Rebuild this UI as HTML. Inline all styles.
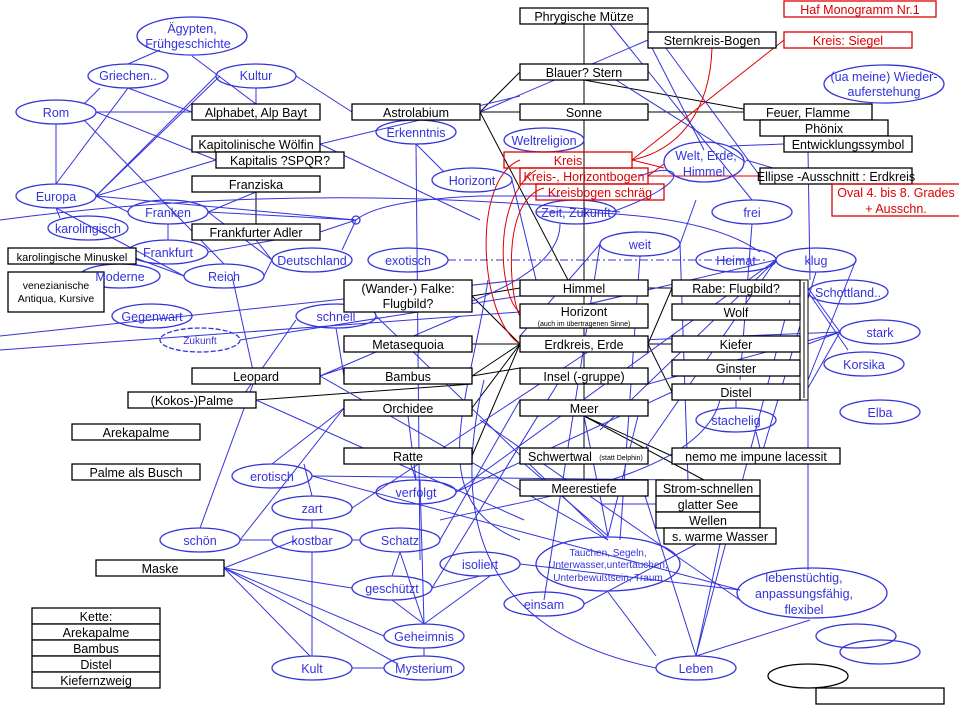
<!DOCTYPE html>
<html><head><meta charset="utf-8"><style>
html,body{margin:0;padding:0;background:#fff;}
svg{display:block;font-family:"Liberation Sans",sans-serif;}
.b rect{fill:#fff;stroke:#000;stroke-width:1.3}
.r rect{fill:none;stroke:#d00;stroke-width:1.3}
.e ellipse{fill:none;stroke:#3333dd;stroke-width:1.3}
.bl line,.bl path{stroke:#3333dd;stroke-width:1;fill:none}
.k line{stroke:#000;stroke-width:1}
.rc path,.rc line{stroke:#d00;stroke-width:1;fill:none}
text{font-size:12.5px;text-anchor:middle}
.tb{fill:#000}.tr{fill:#d00}.te{fill:#3333dd}
</style></head><body>
<svg width="959" height="719" viewBox="0 0 959 719">
<!-- black tree lines -->
<g class="k">
<line x1="584" y1="24" x2="584" y2="480"/>
<line x1="648" y1="40" x2="648" y2="24"/>
<line x1="584" y1="80" x2="760" y2="112"/>
<line x1="480" y1="112" x2="520" y2="72"/>
<line x1="480" y1="112" x2="520" y2="112"/>
<line x1="648" y1="112" x2="744" y2="112"/>
<line x1="480" y1="112" x2="568" y2="280"/>
<line x1="256" y1="192" x2="256" y2="224"/>
<line x1="472" y1="296" x2="520" y2="288"/>
<line x1="472" y1="296" x2="520" y2="344"/>
<line x1="472" y1="344" x2="520" y2="344"/>
<line x1="472" y1="376" x2="520" y2="344"/>
<line x1="472" y1="408" x2="520" y2="344"/>
<line x1="472" y1="456" x2="520" y2="344"/>
<line x1="472" y1="376" x2="520" y2="368"/>
<line x1="256" y1="400" x2="472" y2="384"/>
<line x1="648" y1="288" x2="672" y2="288"/>
<line x1="648" y1="344" x2="672" y2="344"/>
<line x1="648" y1="344" x2="672" y2="288"/>
<line x1="648" y1="344" x2="672" y2="392"/>
<line x1="584" y1="416" x2="704" y2="480"/>
<line x1="584" y1="416" x2="672" y2="456"/>
<line x1="760" y1="136" x2="840" y2="136"/>
</g>
<!-- blue lines -->
<g class="bl">
<line x1="128" y1="64" x2="160" y2="50"/>
<line x1="192" y1="56" x2="256" y2="104"/>
<line x1="256" y1="88" x2="256" y2="104"/>
<line x1="296" y1="76" x2="352" y2="112"/>
<line x1="100" y1="88" x2="84" y2="104"/>
<line x1="128" y1="88" x2="192" y2="112"/>
<line x1="128" y1="88" x2="56" y2="184"/>
<line x1="96" y1="112" x2="192" y2="112"/>
<line x1="96" y1="112" x2="216" y2="160"/>
<line x1="56" y1="124" x2="56" y2="184"/>
<line x1="84" y1="120" x2="224" y2="264"/>
<line x1="96" y1="196" x2="216" y2="76"/>
<line x1="96" y1="196" x2="220" y2="76"/>
<line x1="96" y1="196" x2="216" y2="160"/>
<line x1="96" y1="196" x2="128" y2="212"/>
<line x1="96" y1="196" x2="356" y2="220"/>
<line x1="56" y1="208" x2="184" y2="276"/>
<line x1="56" y1="208" x2="60" y2="218"/>
<line x1="168" y1="224" x2="168" y2="240"/>
<line x1="208" y1="212" x2="256" y2="192"/>
<line x1="208" y1="212" x2="272" y2="260"/>
<line x1="208" y1="212" x2="356" y2="220"/>
<line x1="208" y1="252" x2="320" y2="232"/>
<line x1="256" y1="240" x2="272" y2="260"/>
<line x1="130" y1="256" x2="184" y2="276"/>
<line x1="264" y1="276" x2="272" y2="260"/>
<line x1="320" y1="232" x2="356" y2="220"/>
<path d="M342,250 L356,220 Q380,200 480,196 L560,196"/>
<line x1="320" y1="144" x2="520" y2="96"/>
<line x1="320" y1="144" x2="480" y2="220"/>
<line x1="480" y1="112" x2="648" y2="40"/>
<line x1="416" y1="144" x2="420" y2="560"/>
<line x1="416" y1="144" x2="444" y2="172"/>
<line x1="448" y1="260" x2="768" y2="260" stroke-dasharray="8,3,2,3"/>
<line x1="512" y1="180" x2="536" y2="280"/>
<line x1="648" y1="40" x2="704" y2="150"/>
<line x1="616" y1="80" x2="746" y2="162"/>
<line x1="610" y1="24" x2="752" y2="200"/>
<line x1="660" y1="40" x2="760" y2="176"/>
<line x1="746" y1="160" x2="800" y2="176"/>
<line x1="730" y1="146" x2="784" y2="144"/>
<path d="M0,220 Q300,180 620,212"/>
<path d="M536,212 Q700,210 760,252"/>
<path d="M560,224 C560,270 480,300 440,312"/>
<path d="M612,212 C700,180 680,160 640,176"/>
<line x1="600" y1="244" x2="520" y2="336"/>
<line x1="680" y1="244" x2="696" y2="200"/>
<line x1="600" y1="244" x2="544" y2="600"/>
<line x1="640" y1="256" x2="620" y2="540"/>
<line x1="680" y1="244" x2="690" y2="540"/>
<line x1="752" y1="224" x2="740" y2="380"/>
<line x1="856" y1="260" x2="808" y2="380"/>
<line x1="776" y1="260" x2="520" y2="320"/>
<line x1="776" y1="260" x2="600" y2="430"/>
<line x1="776" y1="260" x2="640" y2="456"/>
<line x1="816" y1="272" x2="760" y2="460"/>
<line x1="840" y1="332" x2="808" y2="288"/>
<line x1="840" y1="332" x2="808" y2="344"/>
<line x1="840" y1="332" x2="808" y2="388"/>
<line x1="840" y1="332" x2="640" y2="340"/>
<line x1="840" y1="332" x2="648" y2="384"/>
<line x1="808" y1="292" x2="848" y2="350"/>
<line x1="808" y1="400" x2="808" y2="570"/>
<line x1="808" y1="150" x2="810" y2="280"/>
<line x1="256" y1="384" x2="232" y2="276"/>
<line x1="320" y1="376" x2="344" y2="368"/>
<line x1="320" y1="376" x2="460" y2="316"/>
<line x1="320" y1="376" x2="608" y2="540"/>
<line x1="256" y1="376" x2="200" y2="528"/>
<line x1="336" y1="328" x2="344" y2="376" stroke-width="3"/>
<line x1="240" y1="340" x2="520" y2="296"/>
<line x1="0" y1="336" x2="520" y2="280"/>
<line x1="0" y1="350" x2="520" y2="312"/>
<line x1="376" y1="316" x2="608" y2="540"/>
<line x1="296" y1="320" x2="240" y2="400"/>
<line x1="256" y1="400" x2="524" y2="520"/>
<line x1="344" y1="408" x2="272" y2="464"/>
<line x1="344" y1="408" x2="240" y2="540"/>
<line x1="408" y1="416" x2="416" y2="480"/>
<line x1="408" y1="456" x2="416" y2="480"/>
<line x1="352" y1="508" x2="600" y2="344"/>
<line x1="312" y1="476" x2="680" y2="480"/>
<line x1="312" y1="476" x2="740" y2="590"/>
<line x1="456" y1="492" x2="672" y2="392"/>
<line x1="456" y1="492" x2="776" y2="260"/>
<line x1="240" y1="540" x2="272" y2="540"/>
<line x1="352" y1="540" x2="360" y2="540"/>
<line x1="312" y1="520" x2="312" y2="528"/>
<line x1="304" y1="464" x2="312" y2="496"/>
<line x1="312" y1="552" x2="312" y2="656"/>
<line x1="400" y1="552" x2="392" y2="576"/>
<line x1="400" y1="552" x2="424" y2="624"/>
<line x1="440" y1="540" x2="520" y2="400"/>
<line x1="224" y1="568" x2="352" y2="588"/>
<line x1="224" y1="568" x2="384" y2="636"/>
<line x1="224" y1="568" x2="398" y2="664"/>
<line x1="224" y1="568" x2="310" y2="656"/>
<line x1="224" y1="568" x2="296" y2="540"/>
<line x1="352" y1="668" x2="384" y2="668"/>
<line x1="424" y1="648" x2="424" y2="656"/>
<line x1="392" y1="600" x2="424" y2="624"/>
<line x1="432" y1="588" x2="480" y2="576"/>
<line x1="432" y1="588" x2="560" y2="380"/>
<line x1="424" y1="624" x2="490" y2="576"/>
<line x1="424" y1="624" x2="420" y2="480"/>
<line x1="520" y1="564" x2="740" y2="590"/>
<line x1="584" y1="604" x2="704" y2="540"/>
<line x1="608" y1="592" x2="656" y2="656"/>
<line x1="696" y1="656" x2="720" y2="544"/>
<line x1="696" y1="656" x2="790" y2="300"/>
<line x1="696" y1="656" x2="640" y2="480"/>
<line x1="696" y1="656" x2="810" y2="620"/>
<line x1="608" y1="536" x2="584" y2="416"/>
<line x1="608" y1="536" x2="520" y2="460"/>
<line x1="608" y1="536" x2="640" y2="408"/>
<line x1="480" y1="420" x2="740" y2="600"/>
<line x1="600" y1="504" x2="656" y2="504"/>
<line x1="756" y1="432" x2="760" y2="448"/>
<line x1="736" y1="408" x2="736" y2="400"/>
<path d="M488,280 C470,400 420,500 520,540"/>
<path d="M484,380 C440,560 520,640 656,668"/>
<path d="M440,520 C520,500 700,480 720,400"/>
</g>
<!-- red curves -->
<g class="rc">
<path d="M712,48 C710,110 680,150 632,160"/>
<line x1="784" y1="40" x2="632" y2="160"/>
<line x1="632" y1="160" x2="664" y2="168"/>
<line x1="648" y1="176" x2="760" y2="176"/>
<line x1="648" y1="176" x2="664" y2="164"/>
<path d="M520,160 C470,180 480,320 520,344"/>
<path d="M536,170 C490,200 500,300 520,312"/>
<path d="M544,188 C500,200 510,300 520,316"/>
<line x1="840" y1="184" x2="840" y2="176"/>
</g>
<!-- double vertical bars -->
<rect x="800" y="280" width="8" height="120" fill="#fff" stroke="#000"/>
<line x1="804" y1="282" x2="804" y2="398" stroke="#000"/>
<!-- ellipses -->
<g class="e">
<ellipse cx="192" cy="36" rx="55" ry="19"/>
<ellipse cx="128" cy="76" rx="40" ry="12"/>
<ellipse cx="256" cy="76" rx="40" ry="12"/>
<ellipse cx="56" cy="112" rx="40" ry="12"/>
<ellipse cx="416" cy="132" rx="40" ry="12"/>
<ellipse cx="544" cy="140" rx="40" ry="12"/>
<ellipse cx="704" cy="162" rx="40" ry="20"/>
<ellipse cx="472" cy="180" rx="40" ry="12"/>
<ellipse cx="56" cy="196" rx="40" ry="12"/>
<ellipse cx="168" cy="212" rx="40" ry="12"/>
<ellipse cx="88" cy="228" rx="40" ry="12"/>
<ellipse cx="168" cy="252" rx="40" ry="12"/>
<ellipse cx="312" cy="260" rx="40" ry="12"/>
<ellipse cx="224" cy="276" rx="40" ry="12"/>
<ellipse cx="120" cy="276" rx="40" ry="12"/>
<ellipse cx="408" cy="260" rx="40" ry="12"/>
<ellipse cx="576" cy="212" rx="40" ry="12"/>
<ellipse cx="752" cy="212" rx="40" ry="12"/>
<ellipse cx="640" cy="244" rx="40" ry="12"/>
<ellipse cx="736" cy="260" rx="40" ry="12"/>
<ellipse cx="816" cy="260" rx="40" ry="12"/>
<ellipse cx="884" cy="84" rx="60" ry="19"/>
<ellipse cx="848" cy="292" rx="40" ry="12"/>
<ellipse cx="880" cy="332" rx="40" ry="12"/>
<ellipse cx="864" cy="364" rx="40" ry="12"/>
<ellipse cx="880" cy="412" rx="40" ry="12"/>
<ellipse cx="152" cy="316" rx="40" ry="12"/>
<ellipse cx="200" cy="340" rx="40" ry="12" stroke-dasharray="5,2"/>
<ellipse cx="336" cy="316" rx="40" ry="12"/>
<ellipse cx="736" cy="420" rx="40" ry="12"/>
<ellipse cx="272" cy="476" rx="40" ry="12"/>
<ellipse cx="416" cy="492" rx="40" ry="12"/>
<ellipse cx="312" cy="508" rx="40" ry="12"/>
<ellipse cx="200" cy="540" rx="40" ry="12"/>
<ellipse cx="312" cy="540" rx="40" ry="12"/>
<ellipse cx="400" cy="540" rx="40" ry="12"/>
<ellipse cx="480" cy="564" rx="40" ry="12"/>
<ellipse cx="608" cy="564" rx="72" ry="27"/>
<ellipse cx="544" cy="604" rx="40" ry="12"/>
<ellipse cx="392" cy="588" rx="40" ry="12"/>
<ellipse cx="812" cy="593" rx="75" ry="25"/>
<ellipse cx="424" cy="636" rx="40" ry="12"/>
<ellipse cx="312" cy="668" rx="40" ry="12"/>
<ellipse cx="424" cy="668" rx="40" ry="12"/>
<ellipse cx="696" cy="668" rx="40" ry="12"/>
<ellipse cx="856" cy="636" rx="40" ry="12"/>
<ellipse cx="880" cy="652" rx="40" ry="12"/>
<ellipse cx="356" cy="220" rx="4" ry="4"/>
</g>
<ellipse cx="808" cy="676" rx="40" ry="12" fill="none" stroke="#000" stroke-width="1.3"/>
<!-- boxes -->
<g class="b">
<rect x="520" y="8" width="128" height="16"/>
<rect x="648" y="32" width="128" height="16"/>
<rect x="520" y="64" width="128" height="16"/>
<rect x="192" y="104" width="128" height="16"/>
<rect x="352" y="104" width="128" height="16"/>
<rect x="520" y="104" width="128" height="16"/>
<rect x="744" y="104" width="128" height="16"/>
<rect x="760" y="120" width="128" height="16"/>
<rect x="784" y="136" width="128" height="16"/>
<rect x="192" y="136" width="128" height="16"/>
<rect x="216" y="152" width="128" height="16"/>
<rect x="760" y="168" width="152" height="16"/>
<rect x="192" y="176" width="128" height="16"/>
<rect x="192" y="224" width="128" height="16"/>
<rect x="8" y="248" width="128" height="16"/>
<rect x="8" y="272" width="96" height="40"/>
<rect x="344" y="280" width="128" height="32"/>
<rect x="520" y="280" width="128" height="16"/>
<rect x="672" y="280" width="128" height="16"/>
<rect x="520" y="304" width="128" height="24"/>
<rect x="672" y="304" width="128" height="16"/>
<rect x="344" y="336" width="128" height="16"/>
<rect x="520" y="336" width="128" height="16"/>
<rect x="672" y="336" width="128" height="16"/>
<rect x="192" y="368" width="128" height="16"/>
<rect x="344" y="368" width="128" height="16"/>
<rect x="520" y="368" width="128" height="16"/>
<rect x="672" y="360" width="128" height="16"/>
<rect x="128" y="392" width="128" height="16"/>
<rect x="344" y="400" width="128" height="16"/>
<rect x="520" y="400" width="128" height="16"/>
<rect x="672" y="384" width="128" height="16"/>
<rect x="72" y="424" width="128" height="16"/>
<rect x="72" y="464" width="128" height="16"/>
<rect x="344" y="448" width="128" height="16"/>
<rect x="520" y="448" width="128" height="16"/>
<rect x="672" y="448" width="168" height="16"/>
<rect x="520" y="480" width="128" height="16"/>
<rect x="656" y="480" width="104" height="16"/>
<rect x="656" y="496" width="104" height="16"/>
<rect x="656" y="512" width="104" height="16"/>
<rect x="664" y="528" width="112" height="16"/>
<rect x="96" y="560" width="128" height="16"/>
<rect x="32" y="608" width="128" height="16"/>
<rect x="32" y="624" width="128" height="16"/>
<rect x="32" y="640" width="128" height="16"/>
<rect x="32" y="656" width="128" height="16"/>
<rect x="32" y="672" width="128" height="16"/>
<rect x="816" y="688" width="128" height="16"/>
</g>
<g class="r">
<rect x="784" y="1" width="152" height="16"/>
<rect x="784" y="32" width="128" height="16"/>
<rect x="504" y="152" width="128" height="16"/>
<rect x="520" y="168" width="128" height="16"/>
<rect x="536" y="184" width="128" height="16"/>
<rect x="832" y="184" width="128" height="32"/>
</g>
<!-- black texts -->
<g class="tb">
<text x="584" y="21">Phrygische Mütze</text>
<text x="712" y="45">Sternkreis-Bogen</text>
<text x="584" y="77">Blauer? Stern</text>
<text x="256" y="117">Alphabet, Alp Bayt</text>
<text x="416" y="117">Astrolabium</text>
<text x="584" y="117">Sonne</text>
<text x="808" y="117">Feuer, Flamme</text>
<text x="824" y="133">Phönix</text>
<text x="848" y="149">Entwicklungssymbol</text>
<text x="256" y="149">Kapitolinische Wölfin</text>
<text x="280" y="165">Kapitalis ?SPQR?</text>
<text x="836" y="181">Ellipse -Ausschnitt : Erdkreis</text>
<text x="256" y="189">Franziska</text>
<text x="256" y="237">Frankfurter Adler</text>
<text x="72" y="261" style="font-size:11px">karolingische Minuskel</text>
<text x="56" y="289" style="font-size:10.5px">venezianische</text>
<text x="56" y="302" style="font-size:10.5px">Antiqua, Kursive</text>
<text x="408" y="293">(Wander-) Falke:</text>
<text x="408" y="308">Flugbild?</text>
<text x="584" y="293">Himmel</text>
<text x="736" y="293">Rabe: Flugbild?</text>
<text x="584" y="316">Horizont</text>
<text x="584" y="326" style="font-size:7px">(auch im übertragenen Sinne)</text>
<text x="736" y="317">Wolf</text>
<text x="408" y="349">Metasequoia</text>
<text x="584" y="349">Erdkreis, Erde</text>
<text x="736" y="349">Kiefer</text>
<text x="256" y="381">Leopard</text>
<text x="408" y="381">Bambus</text>
<text x="584" y="381">Insel (-gruppe)</text>
<text x="736" y="373">Ginster</text>
<text x="192" y="405">(Kokos-)Palme</text>
<text x="408" y="413">Orchidee</text>
<text x="584" y="413">Meer</text>
<text x="736" y="397">Distel</text>
<text x="136" y="437">Arekapalme</text>
<text x="136" y="477">Palme als Busch</text>
<text x="408" y="461">Ratte</text>
<text x="560" y="461">Schwertwal</text>
<text x="621" y="460" style="font-size:7px">(statt Delphin)</text>
<text x="756" y="461">nemo me impune lacessit</text>
<text x="584" y="493">Meerestiefe</text>
<text x="708" y="493">Strom-schnellen</text>
<text x="708" y="509">glatter See</text>
<text x="708" y="525">Wellen</text>
<text x="720" y="541">s. warme Wasser</text>
<text x="160" y="573">Maske</text>
<text x="96" y="621">Kette:</text>
<text x="96" y="637">Arekapalme</text>
<text x="96" y="653">Bambus</text>
<text x="96" y="669">Distel</text>
<text x="96" y="685">Kiefernzweig</text>
</g>
<g class="tr">
<text x="860" y="14">Haf Monogramm Nr.1</text>
<text x="848" y="45">Kreis: Siegel</text>
<text x="568" y="165">Kreis</text>
<text x="584" y="181">Kreis-, Horizontbogen</text>
<text x="600" y="197">Kreisbogen schräg</text>
<text x="896" y="197">Oval 4. bis 8. Grades</text>
<text x="896" y="213">+ Ausschn.</text>
</g>
<g class="te">
<text x="192" y="33">Ägypten,</text>
<text x="188" y="48">Frühgeschichte</text>
<text x="128" y="80">Griechen..</text>
<text x="256" y="80">Kultur</text>
<text x="56" y="117">Rom</text>
<text x="416" y="137">Erkenntnis</text>
<text x="544" y="145">Weltreligion</text>
<text x="706" y="160">Welt, Erde,</text>
<text x="704" y="176">Himmel</text>
<text x="472" y="185">Horizont</text>
<text x="56" y="201">Europa</text>
<text x="168" y="217">Franken</text>
<text x="88" y="233">karolingisch</text>
<text x="168" y="257">Frankfurt</text>
<text x="312" y="265">Deutschland</text>
<text x="224" y="281">Reich</text>
<text x="120" y="281">Moderne</text>
<text x="408" y="265">exotisch</text>
<text x="576" y="217">Zeit, Zukunft</text>
<text x="752" y="217">frei</text>
<text x="640" y="249">weit</text>
<text x="736" y="265">Heimat</text>
<text x="816" y="265">klug</text>
<text x="884" y="81">(ua meine) Wieder-</text>
<text x="884" y="96">auferstehung</text>
<text x="848" y="297">Schottland..</text>
<text x="880" y="337">stark</text>
<text x="864" y="369">Korsika</text>
<text x="880" y="417">Elba</text>
<text x="152" y="321">Gegenwart</text>
<text x="200" y="344" style="font-size:10px">Zukunft</text>
<text x="336" y="321">schnell</text>
<text x="736" y="425">stachelig</text>
<text x="272" y="481">erotisch</text>
<text x="416" y="497">verfolgt</text>
<text x="312" y="513">zart</text>
<text x="200" y="545">schön</text>
<text x="312" y="545">kostbar</text>
<text x="400" y="545">Schatz</text>
<text x="480" y="569">isoliert</text>
<text x="608" y="556" style="font-size:10px">Tauchen, Segeln,</text>
<text x="608" y="568" style="font-size:10px">Unterwasser,untertauchen,</text>
<text x="608" y="581" style="font-size:10px">Unterbewußtsein, Traum</text>
<text x="544" y="609">einsam</text>
<text x="392" y="593">geschützt</text>
<text x="804" y="582">lebenstüchtig,</text>
<text x="804" y="598">anpassungsfähig,</text>
<text x="804" y="614">flexibel</text>
<text x="424" y="641">Geheimnis</text>
<text x="312" y="673">Kult</text>
<text x="424" y="673">Mysterium</text>
<text x="696" y="673">Leben</text>
</g>
</svg>
</body></html>
